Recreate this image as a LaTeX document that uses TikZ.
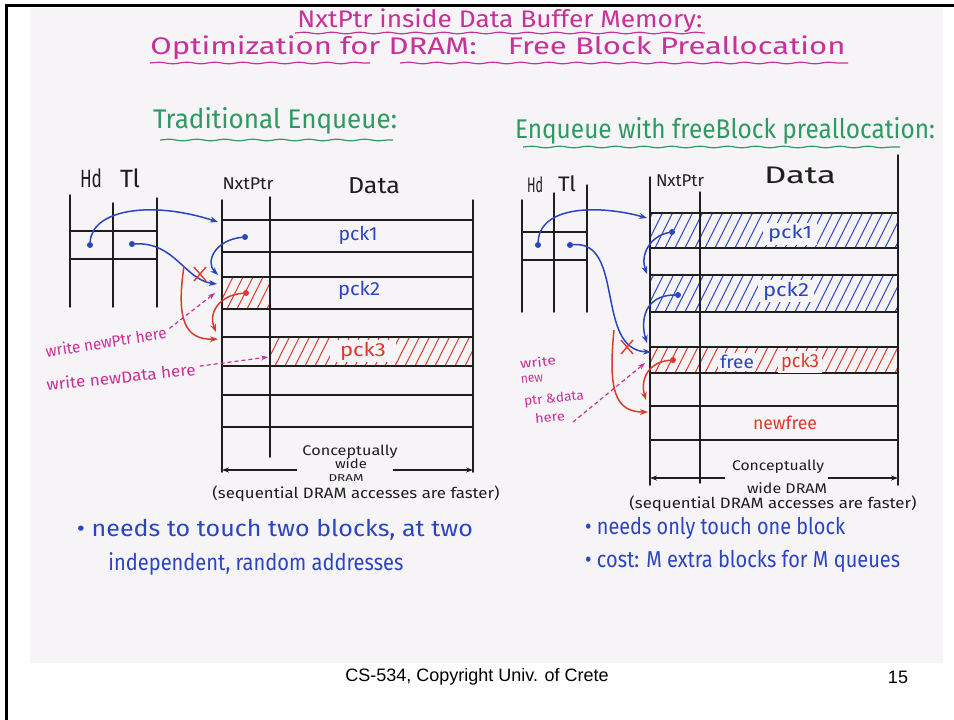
\documentclass[tikz,border=0pt]{standalone}
\usepackage{fontspec}
\usepackage{graphicx}
\setmainfont{Fira Sans}
\newfontfamily\footfont{Liberation Sans}
\usetikzlibrary{arrows.meta,decorations.pathmorphing}

\definecolor{paper}{HTML}{F6F4F6}
\definecolor{ink}{HTML}{1E1E1E}
\definecolor{pen}{HTML}{2A45C0}
\definecolor{redpen}{HTML}{DC3A2C}
\definecolor{magpen}{HTML}{C8309A}
\definecolor{greenpen}{HTML}{2E9A62}

% stretch a text horizontally to a given width, keeping its height
\newcommand\hw[2]{\resizebox{#1}{\height}{#2}}
\newcommand\pfs[1]{\fontsize{#1}{#1}\selectfont}

% diagonal hatching of a rectangle: x1,y1,x2,y2,colour
\newcommand\hatchrow[5]{%
  \begin{scope}
    \clip (#1,#2) rectangle (#3,#4);
    \pgfmathtruncatemacro\hxa{#1-25}
    \pgfmathtruncatemacro\hxb{#1-15}
    \foreach \hx in {\hxa,\hxb,...,#3}
      \draw[#5, line width=1.1pt] (\hx,#4) -- (\hx+0.5*#4-0.5*#2,#2);
  \end{scope}}

\tikzset{
  grid/.style={draw=ink, line width=1.5pt, line cap=round},
  bptr/.style={draw=pen, line width=1.5pt, -{Stealth[length=8pt,width=6pt]}},
  rptr/.style={draw=redpen, line width=1.5pt, -{Stealth[length=8pt,width=6pt]}},
  bdot/.style={circle, fill=pen, inner sep=0pt, minimum size=6pt},
  rdot/.style={circle, fill=redpen, inner sep=0pt, minimum size=6pt},
  hint/.style={draw=magpen, line width=1.2pt, dash pattern=on 4pt off 3pt, -{Stealth[length=7pt,width=5pt]}},
  squiggle/.style={decorate, decoration={snake, amplitude=0.8pt, segment length=28pt}, line width=1.2pt},
  lbl/.style={inner sep=0pt, anchor=center},
  gap/.style={inner sep=0pt, anchor=center, fill=paper, inner xsep=5pt, inner ysep=2pt},
  crossmark/.style={draw=redpen, line width=1.4pt},
  dimline/.style={draw=ink, line width=1.2pt, -{Stealth[length=7pt,width=5pt]}},
}

\begin{document}
\begin{tikzpicture}[x=1pt, y=-1pt]
\useasboundingbox (0,0) rectangle (954,720);
\fill[white] (0,0) rectangle (954,720);
\fill[paper] (30,8) rectangle (943,663);
\draw[line width=3pt] (6.5,720) -- (6.5,5) -- (954,5);

% ---------- titles ----------
\node[lbl, text=magpen, font=\pfs{24}] (t1) at (500,21) {\hw{405pt}{NxtPtr inside Data Buffer Memory:}};
\node[lbl, text=magpen, font=\pfs{24}] (t2) at (498,48) {\hw{695pt}{Optimization for DRAM:\quad Free Block Preallocation}};
\draw[squiggle, magpen] (295,33) -- (705,33);
\draw[squiggle, magpen] (150,63) -- (370,63);
\draw[squiggle, magpen] (400,63) -- (848,63);

\node[lbl, text=greenpen, font=\pfs{27}] (hl) at (275,121) {\hw{244pt}{Traditional Enqueue:}};
\draw[squiggle, greenpen] (160,140) -- (393,140);
\node[lbl, text=greenpen, font=\pfs{27}] (hr) at (725,131) {\hw{420pt}{Enqueue with freeBlock preallocation:}};
\draw[squiggle, greenpen] (523,147) -- (900,147);

% ---------- left: traditional enqueue ----------
\node[lbl, text=ink, font=\pfs{25}] (hdL) at (91,178) {\hw{22pt}{Hd}};
\node[lbl, text=ink, font=\pfs{25}] (tlL) at (130,178) {\hw{20pt}{Tl}};
\node[lbl, text=ink, font=\pfs{17}] (npL) at (248,184) {\hw{51pt}{NxtPtr}};
\node[lbl, text=ink, font=\pfs{23}] (daL) at (374,186) {\hw{52pt}{Data}};

\hatchrow{222}{277}{270}{309}{redpen}
\hatchrow{270}{337}{473}{366}{redpen}

\draw[grid] (70,195) -- (70,307);
\draw[grid] (113,203) -- (113,307);
\draw[grid] (157,198) -- (157,307);
\draw[grid] (70,231) -- (157,231);
\draw[grid] (70,259) -- (157,259);

\draw[grid] (222,200) -- (222,472);
\draw[grid] (270,197) -- (270,457);
\draw[grid] (473,200) -- (473,472);
\foreach \ry in {220,252,277,309,337,366,395,427}
  \draw[grid] (222,\ry) -- (473,\ry);

\node[lbl, text=pen, font=\pfs{19}] (p1L) at (358,235) {\hw{39pt}{pck1}};
\node[lbl, text=pen, font=\pfs{19}] (p2L) at (359,290) {\hw{42pt}{pck2}};
\node[gap, text=redpen, font=\pfs{19}, inner xsep=10pt] (p3L) at (363,351) {\hw{46pt}{pck3}};

% queue pointers
\node[bdot] (dHdL) at (90,245) {};
\node[bdot] (dTlL) at (132,244) {};
\node[bdot] (dP1L) at (245,237) {};
\node[rdot] (dP2L) at (246,293) {};
\coordinate (row1L) at (218,222);
\coordinate (row2L) at (218,275);
\coordinate (row2Lb) at (217,284);
\coordinate (row2Lc) at (216,332);
\coordinate (row3L) at (218,339);
\coordinate (tlNewL) at (184,266);

\draw[bptr] (dHdL) .. controls (92,210) and (150,200) .. (row1L);
\draw[bptr] (dP1L) .. controls (215,240) and (205,262) .. (row2L);
\draw[bptr] (dTlL) .. controls (175,242) and (185,280) .. (row2Lb);
\draw[crossmark] (194,267) -- (206,281) (206,267) -- (194,281);
\draw[rptr] (dP2L) .. controls (220,295) and (208,312) .. (row2Lc);
\draw[rptr] (tlNewL) .. controls (176,320) and (185,340) .. (row3L);

% notes
\node[lbl, text=magpen, font=\pfs{16}, rotate=9] (wpL) at (106,342) {\hw{122pt}{write newPtr here}};
\node[lbl, text=magpen, font=\pfs{16}, rotate=6] (wdL) at (121,377) {\hw{150pt}{write newData here}};
\coordinate (ptrCellL) at (215,293);
\coordinate (dataCellL) at (268,357);
\draw[hint] (wpL.east) ++(3,-4) coordinate (wpLe) -- (ptrCellL);
\draw[hint] (wdL.east) ++(4,-3) coordinate (wdLe) -- (dataCellL);

% width arrow
\coordinate (dimLl) at (222,470);
\coordinate (dimLr) at (473,470);
\coordinate (dimLa) at (297,470);
\coordinate (dimLb) at (393,470);
\draw[dimline] (dimLa) -- (dimLl);
\draw[dimline] (dimLb) -- (dimLr);
\node[lbl, text=ink, font=\pfs{14}] (cL1) at (350,452) {\hw{95pt}{Conceptually}};
\node[lbl, text=ink, font=\pfs{13}] (cL2) at (351,464) {\hw{32pt}{wide}};
\node[lbl, text=ink, font=\pfs{10}] (cL3) at (346,478) {\hw{35pt}{DRAM}};
\node[lbl, text=ink, font=\pfs{15}] (cL4) at (356,494) {\hw{287pt}{(sequential DRAM accesses are faster)}};

\node[lbl, text=pen, font=\pfs{23}] (bL1) at (275,530) {\hw{396pt}{• needs to touch two blocks, at two}};
\node[lbl, text=pen, font=\pfs{23}] (bL2) at (256,564) {\hw{295pt}{independent, random addresses}};

% ---------- right: enqueue with free block preallocation ----------
\node[lbl, text=ink, font=\pfs{21}] (hdR) at (535,185) {\hw{16pt}{Hd}};
\node[lbl, text=ink, font=\pfs{21}] (tlR) at (567,184) {\hw{18pt}{Tl}};
\node[lbl, text=ink, font=\pfs{17}] (npR) at (680,181) {\hw{48pt}{NxtPtr}};
\node[lbl, text=ink, font=\pfs{24}] (daR) at (800,175) {\hw{72pt}{Data}};

\hatchrow{650}{213}{898}{248}{pen}
\hatchrow{650}{275}{898}{312}{pen}
\hatchrow{650}{347}{898}{373}{redpen}

\draw[grid] (522,200) -- (522,312);
\draw[grid] (554,193) -- (554,312);
\draw[grid] (587,185) -- (587,312);
\draw[grid] (522,232) -- (587,232);
\draw[grid] (522,260) -- (587,260);

\draw[grid] (650,177) -- (650,485);
\draw[grid] (700,192) -- (700,483);
\draw[grid] (898,155) -- (898,485);
\foreach \ry in {213,248,275,312,347,373,406,440}
  \draw[grid] (650,\ry) -- (898,\ry);

\node[gap, text=pen, font=\pfs{18}] (p1R) at (790,234) {\hw{44pt}{pck1}};
\node[gap, text=pen, font=\pfs{19}] (p2R) at (786,291) {\hw{46pt}{pck2}};
\node[gap, text=pen, font=\pfs{18}, inner xsep=2pt] (frR) at (737,362) {\hw{34pt}{free}};
\node[gap, text=redpen, font=\pfs{19}, inner xsep=3pt] (p3R) at (800,362) {\hw{38pt}{pck3}};
\node[lbl, text=redpen, font=\pfs{18}] (nfR) at (785,423) {\hw{64pt}{newfree}};

\node[bdot] (dHdR) at (538,245) {};
\node[bdot] (dTlR) at (570,245) {};
\node[bdot] (dP1R) at (672,232) {};
\node[bdot] (dP2R) at (678,295) {};
\node[rdot] (dP3R) at (673,360) {};
\coordinate (row1R) at (647,218);
\coordinate (row2R) at (647,274);
\coordinate (row3Ra) at (647,343);
\coordinate (row3Rb) at (651,352);
\coordinate (row4R) at (646,400);
\coordinate (row5R) at (648,412);
\coordinate (tlNewR) at (614,330);

\draw[bptr] (dHdR) .. controls (540,205) and (600,205) .. (row1R);
\draw[bptr] (dP1R) .. controls (650,236) and (640,255) .. (row2R);
\draw[bptr] (dP2R) .. controls (645,295) and (640,320) .. (row3Ra);
\draw[bptr] (dTlR) .. controls (625,240) and (595,350) .. (row3Rb);
\draw[crossmark] (621,340) -- (633,354) (633,340) -- (621,354);
\draw[rptr] (dP3R) .. controls (648,362) and (640,380) .. (row4R);
\draw[rptr] (tlNewR) .. controls (608,390) and (615,412) .. (row5R);

% note beside the right memory, one word group per line
\node[lbl, text=magpen, font=\pfs{13}, rotate=6] (wR1) at (538,362) {\hw{36pt}{write}};
\node[lbl, text=magpen, font=\pfs{13}, rotate=6] (wR2) at (532,379) {\hw{22pt}{new}};
\node[lbl, text=magpen, font=\pfs{13}, rotate=6] (wR3) at (554,399) {\hw{60pt}{ptr \&data}};
\node[lbl, text=magpen, font=\pfs{13}, rotate=6] (wR4) at (550,417) {\hw{30pt}{here}};
\coordinate (wRe) at (573,422);
\coordinate (ptrCellR) at (645,363);
\draw[hint] (wRe) -- (ptrCellR);

\coordinate (dimRl) at (650,478);
\coordinate (dimRr) at (898,478);
\coordinate (dimRa) at (725,478);
\coordinate (dimRb) at (828,478);
\draw[dimline] (dimRa) -- (dimRl);
\draw[dimline] (dimRb) -- (dimRr);
\node[lbl, text=ink, font=\pfs{14}] (cR1) at (778,467) {\hw{92pt}{Conceptually}};
\node[lbl, text=ink, font=\pfs{14}] (cR2) at (787,488) {\hw{80pt}{wide DRAM}};
\node[lbl, text=ink, font=\pfs{15}] (cR4) at (773,504) {\hw{287pt}{(sequential DRAM accesses are faster)}};

\node[lbl, text=pen, font=\pfs{23}, anchor=west] (bR1) at (585,528) {\hw{260pt}{• needs only touch one block}};
\node[lbl, text=pen, font=\pfs{23}, anchor=west] (bR2) at (585,561) {\hw{315pt}{• cost: M extra blocks for M queues}};

% ---------- footer ----------
\node[lbl, font=\footfont\pfs{18}] (foot) at (477,677) {CS-534, Copyright Univ. of Crete};
\node[lbl, font=\footfont\pfs{18}] (page) at (898,677) {15};
\end{tikzpicture}
\end{document}
